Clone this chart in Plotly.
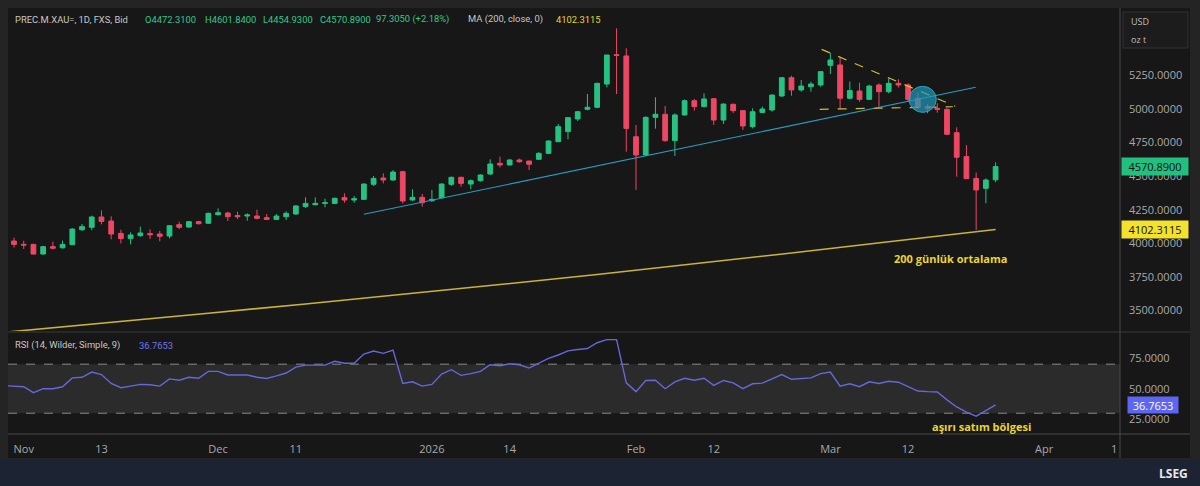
import pandas as pd
import plotly.graph_objects as go

# ---------------- data ----------------
holidays = ["2025-12-25", "2026-01-01"]
calendar = [d.strftime("%Y-%m-%d") for d in pd.bdate_range("2025-10-30", "2026-04-15")
            if d.strftime("%Y-%m-%d") not in holidays]
candle_dates = [d for d in calendar if "2025-10-31" <= d <= "2026-03-25"]

open_ = [4017, 3992, 3992, 3920, 3975, 3967, 3990, 4101, 4119, 4196,
         4166, 4074, 4035, 4057, 4072, 4069, 4054, 4139, 4121, 4161,
         4149, 4213, 4225, 4206, 4203, 4203, 4191, 4178, 4198, 4218,
         4273, 4287, 4297, 4297, 4340, 4322, 4327, 4439, 4486, 4471,
         4533, 4322, 4342, 4317, 4339, 4439, 4491, 4441, 4466, 4516,
         4595, 4583, 4620, 4612, 4625, 4669, 4756, 4831, 4925, 4997,
         5012, 5185, 5403, 5394, 4793, 4657, 4937, 4960, 4764, 4955,
         5061, 5017, 5076, 4917, 5034, 4987, 4868, 4974, 4992, 5096,
         5232, 5141, 5165, 5178, 5324, 5327, 5079, 5133, 5071, 5178,
         5128, 5190, 5178, 5079, 5017, 5004, 4997, 4823, 4645, 4483,
         4409, 4472.31]
high = [4042, 4019, 3997, 3982, 4012, 4020, 4111, 4144, 4206, 4245,
        4201, 4101, 4082, 4124, 4104, 4092, 4136, 4161, 4166, 4168,
        4228, 4260, 4235, 4235, 4223, 4250, 4218, 4218, 4238, 4283,
        4342, 4342, 4332, 4340, 4372, 4352, 4446, 4501, 4521, 4545,
        4540, 4402, 4367, 4397, 4446, 4496, 4496, 4476, 4513, 4625,
        4645, 4625, 4630, 4615, 4679, 4766, 4888, 4935, 4985, 5111,
        5195, 5401, 5599, 5451, 4880, 4945, 5086, 5022, 4967, 5070,
        5074, 5116, 5080, 5040, 5040, 4990, 5004, 5017, 5108, 5237,
        5247, 5215, 5202, 5282, 5418, 5384, 5203, 5195, 5180, 5190,
        5227, 5220, 5190, 5121, 5036, 5042, 5004, 4863, 4731, 4526,
        4483, 4601.84]
low = [3968, 3958, 3918, 3916, 3955, 3960, 3987, 4092, 4097, 4141,
       4030, 3999, 3992, 4049, 4032, 4015, 4037, 4106, 4116, 4139,
       4144, 4206, 4166, 4181, 4168, 4178, 4173, 4173, 4173, 4213,
       4263, 4283, 4268, 4292, 4302, 4302, 4322, 4426, 4446, 4466,
       4297, 4317, 4273, 4307, 4335, 4426, 4421, 4402, 4459, 4508,
       4565, 4578, 4600, 4545, 4620, 4665, 4756, 4774, 4910, 4990,
       5005, 5160, 5111, 4682, 4397, 4650, 4853, 4755, 4650, 4950,
       4987, 5012, 4880, 4888, 4970, 4843, 4855, 4967, 4979, 5090,
       5098, 5128, 5128, 5165, 5260, 4997, 5071, 5054, 5066, 5017,
       5116, 5160, 5054, 4997, 4967, 4972, 4806, 4496, 4481, 4099,
       4298, 4454.93]
close = [3992, 3987, 3920, 3975, 3963, 3992, 4106, 4124, 4196, 4163,
         4069, 4035, 4062, 4077, 4064, 4052, 4131, 4119, 4161, 4146,
         4223, 4228, 4198, 4198, 4211, 4186, 4178, 4203, 4223, 4278,
         4297, 4297, 4302, 4335, 4322, 4332, 4441, 4483, 4471, 4530,
         4315, 4342, 4302, 4327, 4441, 4491, 4446, 4466, 4508, 4590,
         4583, 4620, 4607, 4588, 4669, 4761, 4868, 4935, 4979, 5012,
         5190, 5401, 5398, 4855, 4657, 4937, 4960, 4764, 4955, 5061,
         5017, 5074, 4917, 5036, 4987, 4873, 4979, 4999, 5103, 5232,
         5141, 5170, 5185, 5277, 5364, 5079, 5136, 5071, 5170, 5128,
         5190, 5178, 5071, 5012, 5004, 4997, 4811, 4640, 4481, 4397,
         4471, 4570.89]

rsi_dates = ["2025-10-30"] + candle_dates
rsi = [52.5,
       52.1, 51.6, 46.8, 50.0, 50.0, 51.6, 58.8, 59.3, 63.6, 61.5,
       54.3, 50.8, 52.1, 53.5, 53.2, 52.1, 58.0, 56.9, 59.3, 58.5,
       64.1, 64.1, 61.2, 61.2, 61.2, 59.3, 58.3, 60.4, 62.8, 67.6,
       69.2, 69.2, 69.2, 72.4, 70.8, 70.8, 78.3, 80.7, 78.8, 81.5,
       54.3, 55.6, 52.1, 53.5, 62.0, 65.5, 60.9, 62.3, 64.1, 69.5,
       68.7, 70.3, 69.5, 66.8, 70.8, 74.8, 77.5, 80.9, 82.0, 82.8,
       87.5, 90.0, 90.0, 54.8, 47.6, 56.7, 56.9, 50.0, 55.6, 58.5,
       56.9, 58.5, 52.7, 56.7, 54.8, 50.0, 54.0, 54.5, 58.0, 61.5,
       57.7, 58.5, 58.8, 62.3, 63.6, 52.1, 54.0, 51.6, 55.6, 54.3,
       56.1, 55.3, 51.6, 48.1, 47.6, 47.3, 40.9, 35.1, 30.8, 27.6,
       32.1, 36.7653]

ma_dates = ["2025-10-30", "2025-10-31", "2025-11-14", "2025-11-28", "2025-12-12",
            "2025-12-29", "2026-01-13", "2026-01-27", "2026-02-10", "2026-02-24",
            "2026-03-10", "2026-03-25"]
ma_vals = [3338, 3345, 3412, 3480, 3549, 3620, 3693, 3768, 3847, 3928, 4012, 4102.3115]

tick_dates = ["2025-11-03", "2025-11-13", "2025-12-01", "2025-12-11", "2026-01-02",
              "2026-01-14", "2026-02-02", "2026-02-12", "2026-03-02", "2026-03-12", "2026-04-01"]
tick_text = ["Nov", "13", "Dec", "11", "2026", "14", "Feb", "12", "Mar", "12", "Apr"]
price_ticks = [3500, 3750, 4000, 4250, 4500, 4750, 5000, 5250]
rsi_ticks = [25, 50, 75]

# drawn annotations (date, price)
trend_line = [("2025-12-22", 4216), ("2026-03-23", 5161)]
tri_upper = [("2026-02-27", 5443), ("2026-03-19", 5020)]
tri_lower = [("2026-02-27", 4997), ("2026-03-19", 5016)]
circle_center = ("2026-03-13", 5071)

pos = {d: i for i, d in enumerate(calendar)}
def X(d, off=0.0):
    return pos[d] + off

# ---------------- styles ----------------
GREEN = "#26c281"
RED = "#ee4763"
BG = "#171717"
FONT = "Open Sans"
HFONT = "Roboto"
W, H = 1200, 486
ML, MR, MT, MB = 8, 80, 8, 52
PW, PH = W - ML - MR, H - MT - MB

def px(x):
    return (x - ML) / PW

def py(y):
    return (H - MB - y) / PH

fig = go.Figure()
fig.add_trace(go.Candlestick(
    x=[X(d) for d in candle_dates], open=open_, high=high, low=low, close=close,
    increasing=dict(line=dict(color=GREEN, width=1), fillcolor=GREEN),
    decreasing=dict(line=dict(color=RED, width=1), fillcolor=RED),
    xaxis="x", yaxis="y", showlegend=False, hoverinfo="skip"))
fig.add_trace(go.Scatter(
    x=[X(d) for d in ma_dates], y=ma_vals, mode="lines",
    line=dict(color="#c9b33a", width=1.6), xaxis="x", yaxis="y",
    showlegend=False, hoverinfo="skip"))
fig.add_trace(go.Scatter(
    x=[X(d) for d in rsi_dates], y=rsi, mode="lines",
    line=dict(color="#6468d8", width=1.4), xaxis="x2", yaxis="y2",
    showlegend=False, hoverinfo="skip"))

xr = [X("2025-10-31") - 0.617, X("2025-10-31") + 113.8]

shapes = [
    dict(type="rect", xref="paper", yref="paper", x0=px(8), x1=px(1190), y0=py(458), y1=py(8),
         fillcolor=BG, line=dict(width=0), layer="below"),
    dict(type="rect", xref="paper", yref="paper", x0=px(0), x1=px(1200), y0=py(486), y1=py(460),
         fillcolor="#1c2333", line=dict(width=0), layer="below"),
    dict(type="rect", xref="paper", yref="y2", x0=0, x1=1, y0=30, y1=70,
         fillcolor="#2b2b2b", line=dict(width=0), layer="below"),
    dict(type="line", xref="paper", yref="y2", x0=0, x1=1, y0=70, y1=70,
         line=dict(color="#8a8a8a", width=1, dash="dash"), layer="below"),
    dict(type="line", xref="paper", yref="y2", x0=0, x1=1, y0=30, y1=30,
         line=dict(color="#8a8a8a", width=1, dash="dash"), layer="below"),
    dict(type="line", xref="paper", yref="paper", x0=px(8), x1=px(1190), y0=py(332), y1=py(332),
         line=dict(color="#3a3a3a", width=1)),
    dict(type="line", xref="paper", yref="paper", x0=px(8), x1=px(1190), y0=py(434), y1=py(434),
         line=dict(color="#4a4a4a", width=1)),
    dict(type="line", xref="paper", yref="paper", x0=px(1120), x1=px(1120), y0=py(458), y1=py(8),
         line=dict(color="#4a4a4a", width=1)),
    dict(type="rect", xref="paper", yref="paper", x0=px(1123), x1=px(1188), y0=py(48), y1=py(12),
         fillcolor="#1c1c1c", line=dict(color="#333333", width=1)),
    dict(type="line", xref="x", yref="y",
         x0=X(trend_line[0][0]), y0=trend_line[0][1], x1=X(trend_line[1][0], -0.05), y1=trend_line[1][1],
         line=dict(color="#2a9bc0", width=1.1)),
    dict(type="line", xref="x", yref="y",
         x0=X(tri_upper[0][0], 0.1), y0=tri_upper[0][1], x1=X(tri_upper[1][0], -0.15), y1=tri_upper[1][1],
         line=dict(color="#d2bb3a", width=1.2, dash="dash")),
    dict(type="line", xref="x", yref="y",
         x0=X(tri_lower[0][0], -0.1), y0=tri_lower[0][1], x1=X(tri_lower[1][0], -0.4), y1=tri_lower[1][1],
         line=dict(color="#d2bb3a", width=1.2, dash="dash")),
    dict(type="circle", xref="x", yref="y",
         x0=X(circle_center[0], 0.5 - 1.4), x1=X(circle_center[0], 0.5 + 1.4),
         y0=circle_center[1] - 97, y1=circle_center[1] + 97,
         fillcolor="rgba(30,150,180,0.72)", line=dict(color="rgba(45,170,200,0.9)", width=1)),
]

ann = []
def text(x, y, s, color="#c8c8c8", size=10, xanchor="left", bold=False, family=FONT, **kw):
    d = dict(xref="paper", yref="paper", x=px(x), y=py(y), text=f"<b>{s}</b>" if bold else s,
             showarrow=False, xanchor=xanchor, yanchor="middle",
             font=dict(family=family, size=size, color=color))
    d.update(kw)
    ann.append(d)

HG = "#33c88c"
HS = 9.4
text(13, 19, "PREC.M.XAU=, 1D, FXS, Bid", size=HS, family=HFONT)
text(143, 19, "O4472.3100", HG, size=HS, family=HFONT)
text(203, 19, "H4601.8400", HG, size=HS, family=HFONT)
text(261, 19, "L4454.9300", HG, size=HS, family=HFONT)
text(318, 19, "C4570.8900", HG, size=HS, family=HFONT)
text(374, 19, "97.3050 (+2.18%)", HG, size=HS, family=HFONT)
text(466, 19, "MA (200, close, 0)", size=HS, family=HFONT)
text(554, 19, "4102.3115", "#e6d52c", size=HS, family=HFONT)
text(13, 345, "RSI (14, Wilder, Simple, 9)", size=HS, family=HFONT)
text(137, 345, "36.7653", "#7078ee", size=HS, family=HFONT)
text(1129, 21, "USD", "#bdbdbd", 9)
text(1129, 40, "oz t", "#bdbdbd", 9)
text(951, 258, "200 günlük ortalama", "#ecd52a", 11, xanchor="center", bold=True)
text(981, 426, "aşırı satım bölgesi", "#ecd52a", 11, xanchor="center", bold=True)
text(1119, 448, "1", "#a9a9a9", 11, xanchor="right")
text(1190, 473, "LSEG", "#e8e8e8", 12, xanchor="right", bold=True)

# value tags on the axes
ann.append(dict(xref="paper", yref="y", x=px(1120.5), y=close[-1], text=f"{close[-1]:.4f}",
                showarrow=False, xanchor="left", yanchor="middle", bgcolor="#22c07e",
                width=64, height=15, borderpad=1, align="center",
                font=dict(family=FONT, size=11, color="#0d0d0d")))
ann.append(dict(xref="paper", yref="y", x=px(1120.5), y=ma_vals[-1], text=f"{ma_vals[-1]:.4f}",
                showarrow=False, xanchor="left", yanchor="middle", bgcolor="#f3e22c",
                width=64, height=15, borderpad=1, align="center",
                font=dict(family=FONT, size=11, color="#0d0d0d")))
ann.append(dict(xref="paper", yref="y2", x=px(1127), y=rsi[-1], text=f"{rsi[-1]:.4f}",
                showarrow=False, xanchor="left", yanchor="middle", bgcolor="#5c66f2",
                width=48, height=14, borderpad=1, align="center",
                font=dict(family=FONT, size=11, color="#ffffff")))

axis_font = dict(family=FONT, size=11, color="#a9a9a9")
fig.update_layout(
    width=W, height=H,
    margin=dict(l=ML, r=MR, t=MT, b=MB),
    paper_bgcolor="#242424", plot_bgcolor=BG,
    showlegend=False,
    xaxis=dict(domain=[0, 1], anchor="y", range=xr, showticklabels=False, showgrid=False,
               zeroline=False, rangeslider=dict(visible=False), fixedrange=True),
    xaxis2=dict(domain=[0, 1], anchor="y2", matches="x", range=xr, showgrid=False, zeroline=False,
                tickmode="array", tickvals=[X(d) for d in tick_dates], ticktext=tick_text,
                ticks="", tickfont=axis_font, ticklabelstandoff=7),
    yaxis=dict(domain=[py(331), 1], anchor="x", side="right", range=[3347.6, 5750.7],
               tickmode="array", tickvals=price_ticks, tickformat=".4f", ticks="",
               showgrid=False, zeroline=False, tickfont=axis_font, ticklabelstandoff=8),
    yaxis2=dict(domain=[0, py(333)], anchor="x2", side="right", range=[13.05, 95.43],
                tickmode="array", tickvals=rsi_ticks, tickformat=".4f", ticks="",
                showgrid=False, zeroline=False, tickfont=axis_font, ticklabelstandoff=8),
    shapes=shapes, annotations=ann,
)

fig.write_html("out.html")
